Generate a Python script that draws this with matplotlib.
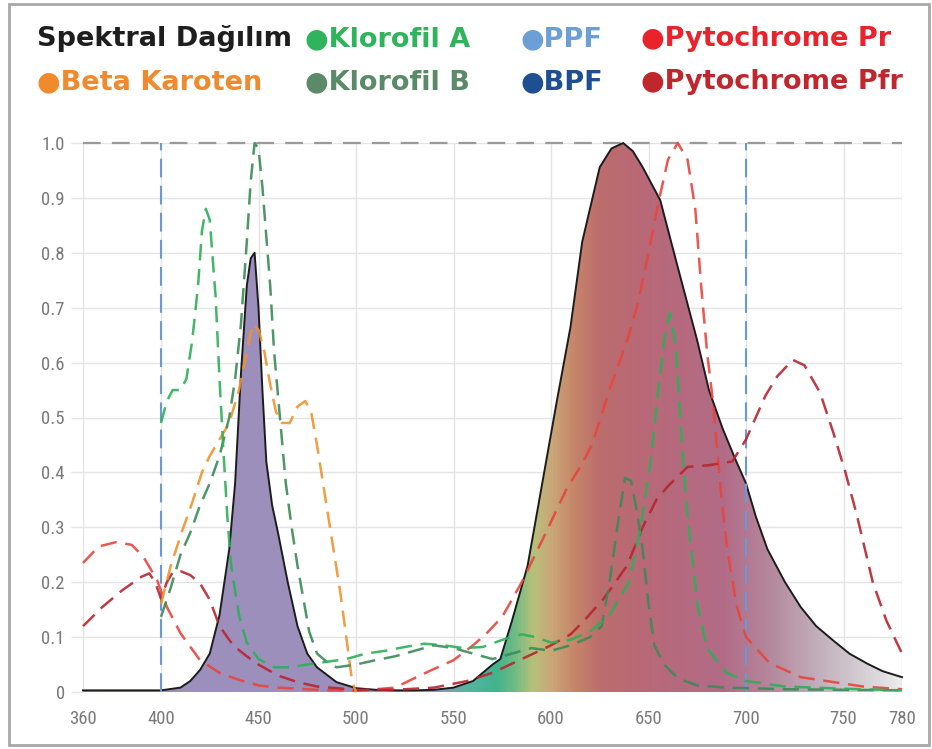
import matplotlib
matplotlib.use("Agg")
import numpy as np
import matplotlib.pyplot as plt
from matplotlib import font_manager
from matplotlib.colors import LinearSegmentedColormap
from matplotlib.patches import Polygon, Rectangle

# --------------------------- DATA --------------------------- #
# spectral distribution of the lamp (black outline, filled)
SPD_NM = [360, 380, 400, 410, 415, 420, 425, 430, 435, 438, 441, 444, 446, 448, 450, 452,
          454, 457, 460, 465, 470, 475, 480, 490, 500, 510, 520, 530, 540, 550, 560, 565,
          570, 574, 580, 588, 594, 603, 610, 616, 625, 631, 637, 642, 647, 656, 665, 675,
          681, 688, 695, 700, 705, 711, 720, 728, 736, 745, 753, 762, 770, 780]
SPD = [0.003, 0.003, 0.003, 0.008, 0.02, 0.04, 0.07, 0.14, 0.26, 0.38, 0.58, 0.74, 0.79,
       0.80, 0.70, 0.55, 0.42, 0.34, 0.29, 0.20, 0.12, 0.07, 0.045, 0.018, 0.007, 0.004,
       0.003, 0.003, 0.004, 0.008, 0.02, 0.035, 0.05, 0.06, 0.13, 0.23, 0.35, 0.53, 0.665,
       0.82, 0.956, 0.99, 1.0, 0.985, 0.956, 0.896, 0.774, 0.64, 0.55, 0.48, 0.42, 0.38,
       0.32, 0.26, 0.20, 0.155, 0.12, 0.093, 0.07, 0.052, 0.038, 0.027]

CHLA_NM = [400, 403, 406, 410, 413, 416, 419, 421, 423, 425, 428, 430, 432, 434, 436, 440,
           444, 450, 458, 466, 475, 485, 495, 505, 515, 525, 535, 545, 555, 565, 575, 585,
           592, 600, 610, 620, 630, 640, 646, 651, 655, 658, 661, 664, 667, 670, 675, 680,
           690, 700, 720, 750, 780]
CHLA = [0.49, 0.53, 0.55, 0.55, 0.57, 0.64, 0.74, 0.84, 0.88, 0.86, 0.72, 0.57, 0.44, 0.32,
        0.23, 0.14, 0.09, 0.06, 0.045, 0.045, 0.05, 0.055, 0.06, 0.07, 0.075, 0.082, 0.088,
        0.085, 0.08, 0.082, 0.095, 0.105, 0.1, 0.09, 0.095, 0.11, 0.14, 0.2, 0.3, 0.42,
        0.55, 0.64, 0.69, 0.63, 0.46, 0.32, 0.16, 0.08, 0.035, 0.02, 0.01, 0.006, 0.003]

CHLB_NM = [400, 405, 410, 415, 420, 425, 430, 435, 438, 441, 444, 446, 448, 450, 452, 454,
           456, 458, 461, 464, 467, 470, 473, 476, 480, 485, 490, 500, 510, 520, 530, 540,
           550, 560, 570, 580, 590, 600, 610, 620, 626, 630, 634, 638, 641, 644, 647, 650,
           653, 658, 665, 675, 690, 720, 780]
CHLB = [0.137, 0.19, 0.25, 0.29, 0.34, 0.38, 0.43, 0.5, 0.57, 0.67, 0.82, 0.93, 1.0, 0.99,
        0.92, 0.83, 0.74, 0.62, 0.5, 0.38, 0.3, 0.23, 0.17, 0.11, 0.07, 0.055, 0.045, 0.05,
        0.058, 0.065, 0.075, 0.085, 0.08, 0.07, 0.06, 0.07, 0.08, 0.075, 0.085, 0.1, 0.12,
        0.2, 0.3, 0.39, 0.385, 0.33, 0.26, 0.16, 0.085, 0.05, 0.025, 0.012, 0.008, 0.005,
        0.003]

BETA_NM = [400, 405, 411, 416, 421, 425, 430, 435, 440, 444, 447, 450, 453, 456, 459, 462,
           466, 470, 474, 477, 480, 484, 488, 492, 495, 498, 500]
BETA = [0.16, 0.23, 0.295, 0.345, 0.40, 0.43, 0.46, 0.49, 0.55, 0.62, 0.67, 0.66, 0.62,
        0.56, 0.51, 0.49, 0.49, 0.52, 0.53, 0.51, 0.45, 0.36, 0.27, 0.18, 0.1, 0.02, 0.0]

PR_NM = [360, 368, 377, 385, 391, 398, 403, 410, 420, 430, 440, 450, 460, 480, 500, 520,
         531, 540, 550, 560, 567, 575, 585, 596, 608, 615, 621, 630, 639, 644, 650, 655,
         660, 665, 670, 674, 677, 680, 683, 687, 690, 695, 700, 712, 728, 745, 760, 780]
PR = [0.235, 0.265, 0.273, 0.268, 0.246, 0.204, 0.155, 0.107, 0.058, 0.035, 0.022, 0.012,
      0.008, 0.004, 0.002, 0.008, 0.027, 0.042, 0.058, 0.085, 0.107, 0.137, 0.2, 0.28,
      0.37, 0.41, 0.45, 0.55, 0.64, 0.70, 0.80, 0.89, 0.97, 1.0, 0.97, 0.88, 0.74, 0.62,
      0.53, 0.37, 0.27, 0.16, 0.1, 0.053, 0.027, 0.018, 0.01, 0.005]

PFR_NM = [360, 370, 380, 390, 394, 397, 400, 403, 406, 410, 415, 420, 425, 430, 437, 444,
          450, 460, 470, 480, 500, 520, 540, 557, 570, 585, 600, 610, 617, 627, 639, 647,
          654, 660, 670, 681, 693, 700, 705, 710, 716, 724, 730, 738, 745, 751, 757, 765,
          772, 780]
PFR = [0.12, 0.155, 0.185, 0.21, 0.216, 0.2, 0.17, 0.2, 0.218, 0.22, 0.213, 0.198, 0.168,
       0.12, 0.085, 0.065, 0.05, 0.03, 0.018, 0.01, 0.004, 0.004, 0.008, 0.02, 0.035, 0.06,
       0.085, 0.105, 0.13, 0.17, 0.23, 0.30, 0.35, 0.375, 0.41, 0.413, 0.42, 0.46, 0.5,
       0.54, 0.575, 0.605, 0.595, 0.545, 0.47, 0.40, 0.32, 0.2, 0.13, 0.07]

PPF_BOUNDS = [400, 700]

X_TICKS = [360, 400, 450, 500, 550, 600, 650, 700, 750, 780]
Y_TICKS = [0, 0.1, 0.2, 0.3, 0.4, 0.5, 0.6, 0.7, 0.8, 0.9, 1.0]
Y_TICK_LABELS = ["0", "0.1", "0.2", "0.3", "0.4", "0.5", "0.6", "0.7", "0.8", "0.9", "1.0"]

LEGEND_ROW1 = ["Klorofil A", "PPF", "Pytochrome Pr"]
LEGEND_ROW2 = ["Beta Karoten", "Klorofil B", "BPF", "Pytochrome Pfr"]
# ------------------------------------------------------------ #

C_CHLA = "#2eae58"
C_CHLB = "#3b8a58"
C_BETA = "#f0922c"
C_PR = "#e8453c"
C_PFR = "#b8252e"
C_PPF = "#6a9ad6"
C_BPF = "#1d4f91"

LEG_CHLA = "#2fb35b"
LEG_CHLB = "#5b8a68"
LEG_BETA = "#f08a2c"
LEG_PR = "#e8232c"
LEG_PFR = "#c0272d"
LEG_PPF = "#6c9fd6"

# spectrum gradient used inside the lamp curve (nm, colour)
GRAD_STOPS = [(360, "#9c8fbc"), (540, "#9c8fbc"), (556, "#58b4a2"), (572, "#40b38c"),
              (582, "#72bb84"), (591, "#b8c07a"), (600, "#c9a878"), (612, "#c6866a"),
              (625, "#bc6d6c"), (650, "#b86878"), (690, "#b26c88"), (712, "#b4869c"),
              (740, "#c3b2bd"), (765, "#d8d4d8"), (780, "#ececec")]

DASH = (0, (6.5, 3.5))

names = {f.name for f in font_manager.fontManager.ttflist}
FONT = "DejaVu Sans"
for cand in ["Liberation Sans Narrow", "DejaVu Sans Condensed", "Roboto Condensed"]:
    if cand in names:
        FONT = cand
        break

W, H = 932, 749
fig = plt.figure(figsize=(W / 100, H / 100), dpi=100)
ax = fig.add_axes([83 / W, 1 - 692 / H, (902 - 83) / W, (692 - 143) / H])

# grid
ax.set_xticks(X_TICKS)
ax.set_yticks(Y_TICKS)
ax.set_yticklabels(Y_TICK_LABELS)
ax.grid(True, color="#e4e4e4", lw=1.0, zorder=0)
ax.set_axisbelow(True)
for s in ax.spines.values():
    s.set_visible(False)
ax.tick_params(axis="y", length=9, color="#e4e4e4", width=1, pad=4,
               labelsize=13.5, labelcolor="#7a7a7a")
ax.tick_params(axis="x", length=0, pad=13, labelsize=13.5, labelcolor="#7a7a7a")
for lab in ax.get_xticklabels() + ax.get_yticklabels():
    lab.set_family(FONT)

# gradient fill under the lamp spectrum
pos = [(nm - 360) / 420 for nm, _ in GRAD_STOPS]
cmap = LinearSegmentedColormap.from_list("spec", list(zip(pos, [c for _, c in GRAD_STOPS])))
grad = cmap(np.linspace(0, 1, 840))[None, :, :3]
im = ax.imshow(grad, extent=[360, 780, 0, 1.0], aspect="auto", origin="lower",
               interpolation="bilinear", zorder=1)
verts = list(zip(SPD_NM, SPD)) + [(780, 0), (360, 0)]
patch = Polygon(verts, closed=True, facecolor="none", edgecolor="none",
                transform=ax.transData)
ax.add_patch(patch)
im.set_clip_path(patch)
ax.plot(SPD_NM, SPD, color="#1c1c1c", lw=1.4, zorder=3, clip_on=False)

# top dashed reference line
ax.plot([360, 780], [1.0, 1.0], color="#9a9a9a", lw=1.6, ls=(0, (8, 5)), zorder=2,
        clip_on=False)

# PPF range
for b in PPF_BOUNDS:
    ax.plot([b, b], [0, 1.0], color=C_PPF, lw=1.5, ls=(0, (9, 4)), zorder=4, clip_on=False)

# absorption curves
series = [
    (PR_NM, PR, C_PR),
    (PFR_NM, PFR, C_PFR),
    (BETA_NM, BETA, C_BETA),
    (CHLB_NM, CHLB, C_CHLB),
    (CHLA_NM, CHLA, C_CHLA),
]
for nm, val, col in series:
    ax.plot(nm, val, color=col, lw=1.8, ls=DASH, zorder=5, clip_on=False, alpha=0.9)

ax.set_xlim(360, 780)
ax.set_ylim(0, 1.0)

# legend header as text
LFONT = "DejaVu Sans"
fs = 19.5
y1 = 1 - 46 / H
y2 = 1 - 89 / H
fig.text(37 / W, y1, "Spektral Dağılım", color="#1e1e1e", fontsize=fs,
         fontweight="bold", va="baseline", family=LFONT)
row1_x = [305, 521, 641]
row1_c = [LEG_CHLA, LEG_PPF, LEG_PR]
for x, t, c in zip(row1_x, LEGEND_ROW1, row1_c):
    fig.text(x / W, y1, "●" + t, color=c, fontsize=fs, fontweight="bold",
             va="baseline", family=LFONT)
row2_x = [37, 305, 521, 641]
row2_c = [LEG_BETA, LEG_CHLB, C_BPF, LEG_PFR]
for x, t, c in zip(row2_x, LEGEND_ROW2, row2_c):
    fig.text(x / W, y2, "●" + t, color=c, fontsize=fs, fontweight="bold",
             va="baseline", family=LFONT)

# outer frame
fig.patches.append(Rectangle((9 / W, 4 / H), (929 - 9) / W, (745 - 4) / H,
                             transform=fig.transFigure, fill=False,
                             edgecolor="#a8a8a8", lw=2))

fig.savefig("out.png", dpi=100)
